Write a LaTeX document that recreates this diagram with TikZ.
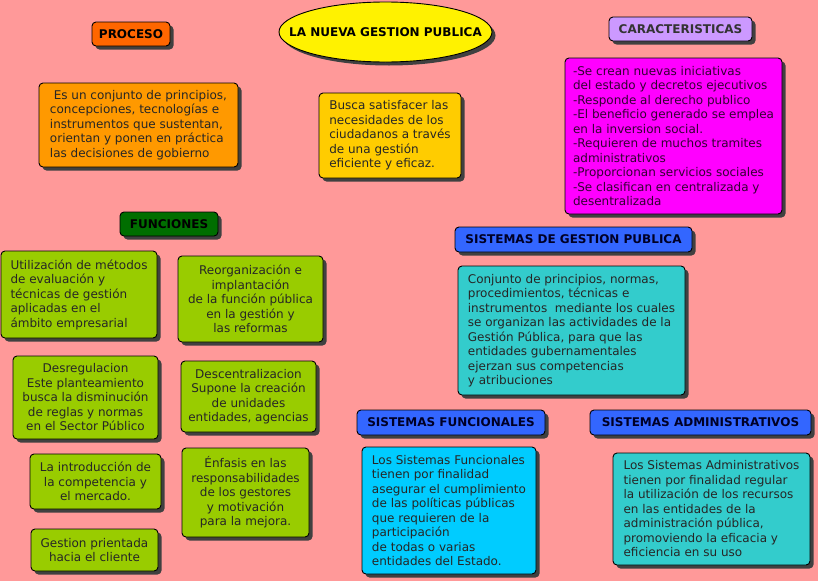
\documentclass[tikz,border=0pt]{standalone}
\usepackage{fontspec}
\setmainfont{DejaVu Sans}
\usetikzlibrary{positioning, shapes.geometric, shadows, calc, backgrounds}

\definecolor{fondo}{RGB}{255,153,153}
\definecolor{naranjaosc}{RGB}{255,102,0}
\definecolor{naranja}{RGB}{255,153,0}
\definecolor{ambar}{RGB}{255,204,0}
\definecolor{lila}{RGB}{204,153,255}
\definecolor{magenta}{RGB}{255,0,255}
\definecolor{verdeosc}{RGB}{0,110,0}
\definecolor{verde}{RGB}{153,204,0}
\definecolor{azul}{RGB}{51,102,255}
\definecolor{turquesa}{RGB}{51,204,204}
\definecolor{celeste}{RGB}{0,204,255}

\begin{document}
\begin{tikzpicture}[
    x=1pt, y=-1pt,
    box/.style={
        rectangle,
        rounded corners=4pt,
        draw=black,
        line width=0.9pt,
        drop shadow={shadow xshift=3.5pt, shadow yshift=-3.5pt, fill=black!75, opacity=1},
        inner xsep=4pt,
        inner ysep=3pt,
        font=\fontsize{12}{14.5}\selectfont
    },
    title/.style={
        box,
        font=\fontsize{12}{13}\selectfont\bfseries,
        align=center
    },
    note/.style={
        box,
        align=left,
        text=black!85
    },
    func/.style={
        box,
        fill=verde,
        align=center,
        text=black!85
    },
    link/.style={
        draw=black!80,
        line width=0.6pt
    }
]

    \useasboundingbox[fill=fondo] (0,0) rectangle (818,581);

    % Tema central
    \node[ellipse, draw=black, line width=0.9pt, fill=yellow,
          drop shadow={shadow xshift=3.5pt, shadow yshift=-3.5pt, fill=black!75, opacity=1},
          minimum width=213pt, minimum height=60pt, inner xsep=-22pt, inner ysep=0pt,
          font=\fontsize{12}{13}\selectfont\bfseries] (tema) at (385.5,32) {LA NUEVA GESTION PUBLICA};

    % Proceso
    \node[title, fill=naranjaosc, minimum width=78pt, minimum height=24pt] (proceso) at (131,34) {PROCESO};
    \node[note, fill=naranja, minimum width=199pt, minimum height=84pt] (concepto) at (138.5,125)
        {\ Es un conjunto de principios,\\concepciones, tecnologías e\\instrumentos que sustentan,\\orientan y ponen en práctica\\las decisiones de gobierno};

    \node[note, fill=ambar, minimum width=142pt, minimum height=85pt] (fin) at (390,135.5)
        {Busca satisfacer las\\necesidades de los\\ciudadanos a través\\de una gestión\\eficiente y eficaz.};

    % Caracteristicas
    \node[title, fill=lila, text=black!80, minimum width=143pt, minimum height=24pt] (caract) at (680.5,29) {CARACTERISTICAS};
    \node[note, fill=magenta, text=black!80!magenta, minimum width=217pt, minimum height=156pt] (rasgos) at (673.5,136)
        {-Se crean nuevas iniciativas\\del estado y decretos ejecutivos\\-Responde al derecho publico\\-El beneficio generado se emplea\\en la inversion social.\\-Requieren de muchos tramites\\administrativos\\-Proporcionan servicios sociales\\-Se clasifican en centralizada y\\desentralizada};

    % Funciones
    \node[title, fill=verdeosc, minimum width=98pt, minimum height=24pt] (funciones) at (169,224) {FUNCIONES};
    \node[func, align=left, minimum width=156pt, minimum height=87pt] (metodos) at (79,294.5)
        {Utilización de métodos\\de evaluación y\\técnicas de gestión\\aplicadas en el\\ámbito empresarial};
    \node[func, minimum width=145pt, minimum height=86pt] (reorg) at (250.5,299)
        {Reorganización e\\implantación\\de la función pública\\en la gestión y\\las reformas};
    \node[func, minimum width=145pt, minimum height=83pt] (desreg) at (85.5,397.5)
        {Desregulacion\\Este planteamiento\\busca la disminución\\de reglas y normas\\en el Sector Público};
    \node[func, minimum width=135pt, minimum height=71pt] (descent) at (248.5,396.5)
        {Descentralizacion\\Supone la creación\\de unidades\\entidades, agencias};
    \node[func, minimum width=131pt, minimum height=55pt] (competencia) at (95.5,481.5)
        {La introducción de\\la competencia y\\el mercado.};
    \node[func, minimum width=127pt, minimum height=89pt] (enfasis) at (245.5,492.5)
        {Énfasis en las\\responsabilidades\\de los gestores\\y motivación\\para la mejora.};
    \node[func, minimum width=127pt, minimum height=42pt] (cliente) at (94.5,550)
        {Gestion prientada\\hacia el cliente};

    % Sistemas
    \node[title, fill=azul, text=black!85!blue, minimum width=237pt, minimum height=25pt] (sistemas) at (573.5,239.5) {SISTEMAS DE GESTION PUBLICA};
    \node[note, fill=turquesa, minimum width=227pt, minimum height=129pt] (definicion) at (571.5,330.5)
        {Conjunto de principios, normas,\\procedimientos, técnicas e\\instrumentos\ \ mediante los cuales\\se organizan las actividades de la\\Gestión Pública, para que las\\entidades gubernamentales\\ejerzan sus competencias\\y atribuciones};

    \node[title, fill=azul, text=black!85!blue, minimum width=188pt, minimum height=25pt] (sfunc) at (451,422.5) {SISTEMAS FUNCIONALES};
    \node[title, fill=azul, text=black!85!blue, minimum width=221pt, minimum height=25pt] (sadm) at (700.5,422.5) {SISTEMAS ADMINISTRATIVOS};

    \node[note, fill=celeste, minimum width=174pt, minimum height=127pt] (dfunc) at (449,510.5)
        {Los Sistemas Funcionales\\tienen por finalidad\\asegurar el cumplimiento\\de las políticas públicas\\que requieren de la\\participación\\de todas o varias\\entidades del Estado.};
    \node[note, fill=turquesa, minimum width=197pt, minimum height=112pt] (dadm) at (711.5,509)
        {Los Sistemas Administrativos\\tienen por finalidad regular\\la utilización de los recursos\\en las entidades de la\\administración pública,\\promoviendo la eficacia y\\eficiencia en su uso};

    % Conexiones
    \begin{scope}[on background layer]
        \draw[link] ([xshift=-87pt]definicion.south) -- ([xshift=19pt]sfunc.north);
        \draw[link] ([xshift=95pt]definicion.south) -- ([xshift=-19pt]sadm.north);
    \end{scope}

\end{tikzpicture}
\end{document}
